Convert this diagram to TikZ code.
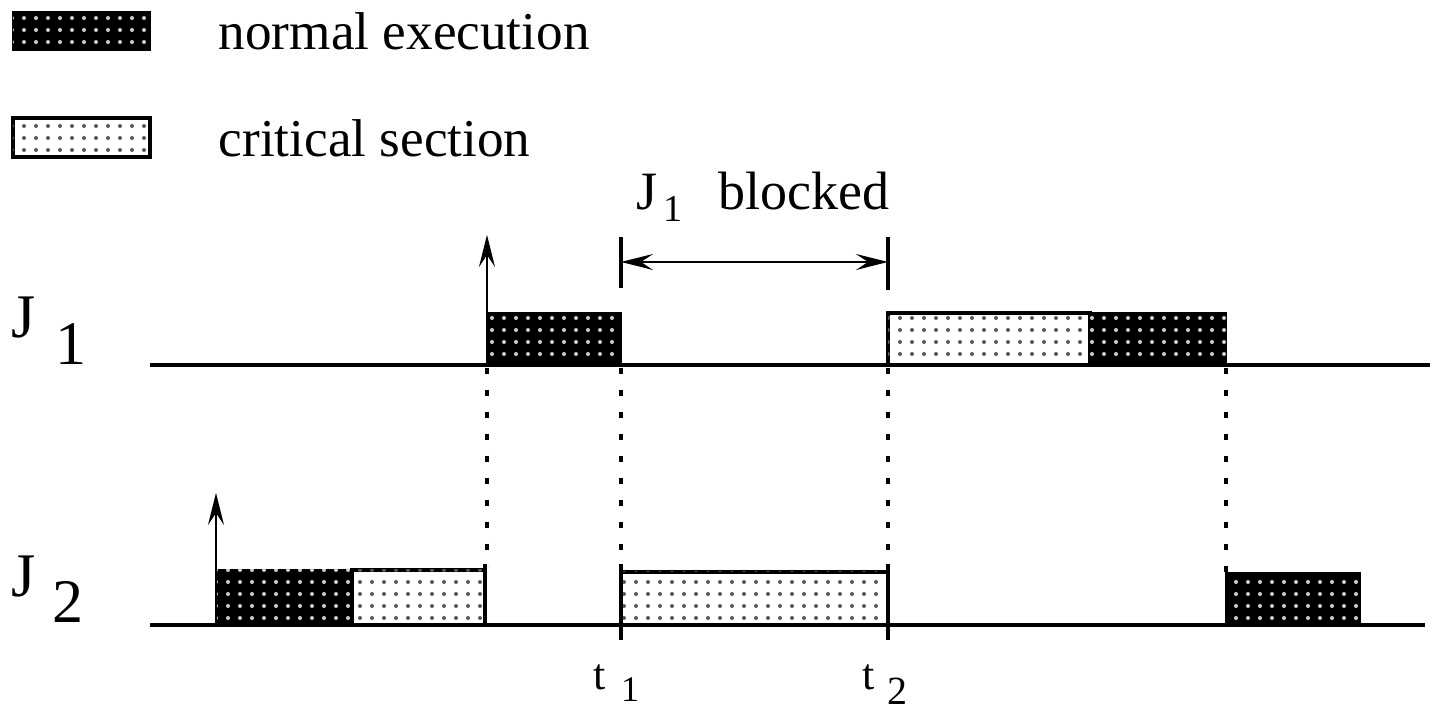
\documentclass[tikz,border=0pt]{standalone}
\usepackage{fontspec}
\setmainfont{Liberation Serif}
\usetikzlibrary{arrows,arrows.meta,patterns,positioning}

\begin{document}
\begin{tikzpicture}[x=0.25pt,y=-0.25pt,>={Stealth[length=8pt,width=4pt,inset=3pt]},
  normalbox/.style={fill=black,postaction={pattern=dots,pattern color=white!80!black}},
  criticalbox/.style={draw,line width=0.8pt,fill=white,postaction={pattern=dots,pattern color=black!65}},
  timeline/.style={line width=0.8pt},
  guide/.style={line width=0.8pt,dash pattern=on 1.5pt off 4pt},
  legendtext/.style={inner sep=0pt,anchor=base west,font=\fontsize{13.3}{16}\selectfont},
  jobtext/.style={inner sep=0pt,anchor=base west,font=\fontsize{15.5}{18}\selectfont},
  timetext/.style={inner sep=0pt,anchor=base west,font=\fontsize{11}{13}\selectfont}]
\useasboundingbox (0,0) rectangle (1440,714);
% legend
\draw[normalbox] (13,12) rectangle (150,50);
\node[legendtext] (lnormal) at (218,50) {normal execution};
\draw[criticalbox] (13,118) rectangle (150,157);
\node[legendtext] (lcritical) at (218,157) {critical section};
% job J1
\node[jobtext] (j1) at (11,338) {J\kern5pt\raisebox{-6.75pt}{1}};
\coordinate (j1start) at (150,365);
\coordinate (j1end) at (1430,365);
\draw[normalbox] (487,313) rectangle (621,365);
\draw[criticalbox] (888,313) rectangle (1090,365);
\draw[normalbox] (1090,313) rectangle (1226,365);
\draw[timeline] (j1start) -- (j1end);
\coordinate (r1) at (487,365);
\coordinate (r1top) at (487,235);
\draw[->,line width=0.5pt] (r1) -- (r1top);
% J1 blocked interval
\coordinate (bl) at (621,262);
\coordinate (br) at (888,262);
\draw[line width=1pt] (621,237) -- (621,288);
\draw[line width=1pt] (888,237) -- (888,290);
\draw[<->,line width=0.5pt] (bl) -- (br);
\node[inner sep=0pt,anchor=base west,font=\fontsize{13.5}{16}\selectfont] (blocked) at (636,210)
  {J\kern1.5pt\raisebox{-3pt}{\fontsize{9.5}{11}\selectfont 1}\kern9pt blocked};
% job J2
\node[jobtext] (j2) at (11,597) {J\kern4.25pt\raisebox{-6.5pt}{2}};
\coordinate (j2start) at (150,625);
\coordinate (j2end) at (1425,625);
\draw[normalbox] (216,570) rectangle (352,625);
\draw[criticalbox] (352,570) rectangle (485,625);
\draw[criticalbox] (621,572) rectangle (888,625);
\draw[normalbox] (1226,573) rectangle (1360,625);
\draw[timeline,line width=1pt] (j2start) -- (j2end);
\coordinate (r2) at (216,625);
\coordinate (r2top) at (216,493);
\draw[->,line width=0.5pt] (r2) -- (r2top);
% guides
\coordinate (a1) at (487,368);
\coordinate (a2) at (621,368);
\coordinate (a3) at (888,368);
\coordinate (a4) at (1226,368);
\coordinate (b1) at (487,566);
\coordinate (b2) at (621,564);
\coordinate (b3) at (888,564);
\coordinate (b4) at (1226,572);
\draw[guide] (a1) -- (b1);
\draw[guide] (a2) -- (b2);
\draw[guide] (a3) -- (b3);
\draw[guide] (a4) -- (b4);
\draw[line width=0.8pt] (485,564) -- (485,572);
\draw[line width=0.8pt] (b2) -- (621,640);
\draw[line width=0.8pt] (b3) -- (888,640);
% times
\node[timetext] (t1) at (593,690) {t\kern3.75pt\raisebox{-3pt}{\fontsize{9}{10}\selectfont 1}};
\node[timetext] (t2) at (862,690) {t\kern3.2pt\raisebox{-3.75pt}{\fontsize{10}{11}\selectfont 2}};
\end{tikzpicture}
\end{document}
